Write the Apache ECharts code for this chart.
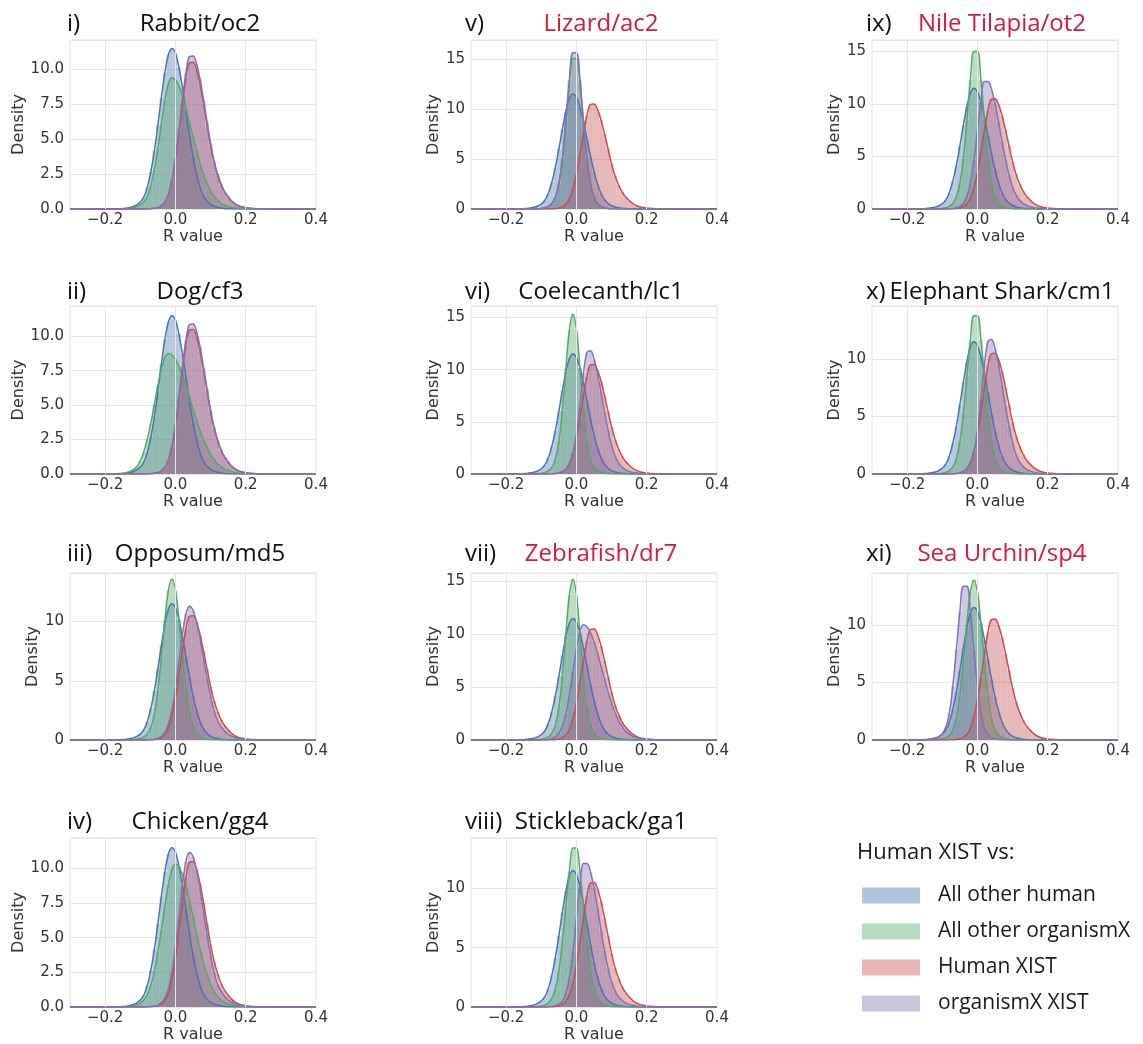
<!DOCTYPE html>
<html>
<head>
<meta charset="utf-8">
<script src="https://cdn.jsdelivr.net/npm/echarts@6/dist/echarts.min.js"></script>
<style>
html, body { margin: 0; padding: 0; background: #fff; }
#chart { width: 1143px; height: 1044px; }
</style>
</head>
<body>
<div id="chart"></div>
<script>
// R value grid (bin centres / kde points)
var rValues = [
  -0.30, -0.29, -0.28, -0.27, -0.26, -0.25, -0.24, -0.23, -0.22, -0.21,
  -0.20, -0.19, -0.18, -0.17, -0.16, -0.15, -0.14, -0.13, -0.12, -0.11,
  -0.10, -0.09, -0.08, -0.07, -0.06, -0.05, -0.04, -0.03, -0.02, -0.01,
  0.00, 0.01, 0.02, 0.03, 0.04, 0.05, 0.06, 0.07, 0.08, 0.09,
  0.10, 0.11, 0.12, 0.13, 0.14, 0.15, 0.16, 0.17, 0.18, 0.19,
  0.20, 0.21, 0.22, 0.23, 0.24, 0.25, 0.26, 0.27, 0.28, 0.29,
  0.30, 0.31, 0.32, 0.33, 0.34, 0.35, 0.36, 0.37, 0.38, 0.39,
  0.40
];

// same in every panel
var humanOther = [
  0, 0, 0, 0, 0, 0, 0, 0, 0, 0,
  0, 0, 0, 0.01, 0.02, 0.035, 0.06, 0.11, 0.18, 0.3,
  0.5, 0.85, 1.55, 2.65, 4.14, 6.0, 7.97, 9.76, 11.04, 11.5,
  11.15, 10.15, 8.7, 6.98, 5.27, 3.74, 2.49, 1.55, 0.92, 0.55,
  0.33, 0.2, 0.12, 0.07, 0.04, 0.02, 0.01, 0, 0, 0,
  0, 0, 0, 0, 0, 0, 0, 0, 0, 0,
  0, 0, 0, 0, 0, 0, 0, 0, 0, 0,
  0
];
var humanXist = [
  0, 0, 0, 0, 0, 0, 0, 0, 0, 0,
  0, 0, 0, 0, 0, 0, 0, 0, 0, 0,
  0, 0, 0.01, 0.02, 0.05, 0.1, 0.22, 0.47, 1.0, 1.97,
  3.45, 5.4, 7.5, 9.35, 10.45, 10.5, 9.95, 8.9, 7.5, 6.0,
  4.5, 3.3, 2.4, 1.7, 1.2, 0.85, 0.55, 0.35, 0.22, 0.14,
  0.09, 0.06, 0.04, 0.025, 0.015, 0.01, 0.005, 0, 0, 0,
  0, 0, 0, 0, 0, 0, 0, 0, 0, 0,
  0
];

// all other organismX, one per panel
var rabbitOther = [
  0, 0, 0, 0, 0, 0, 0, 0, 0, 0,
  0, 0, 0, 0, 0.01, 0.02, 0.035, 0.06, 0.1, 0.18,
  0.3, 0.5, 0.9, 1.65, 2.8, 4.3, 6.05, 7.75, 8.95, 9.4,
  9.25, 8.8, 8.1, 7.2, 6.2, 5.2, 4.2, 3.25, 2.45, 1.8,
  1.3, 0.9, 0.6, 0.4, 0.27, 0.18, 0.12, 0.08, 0.05, 0.03,
  0.02, 0.01, 0, 0, 0, 0, 0, 0, 0, 0,
  0, 0, 0, 0, 0, 0, 0, 0, 0, 0,
  0
];
var dogOther = [
  0, 0, 0, 0, 0, 0, 0, 0, 0, 0,
  0, 0, 0.01, 0.02, 0.035, 0.06, 0.1, 0.18, 0.31, 0.53,
  0.95, 1.6, 2.52, 3.68, 5.03, 6.4, 7.62, 8.45, 8.75, 8.64,
  8.32, 7.81, 7.16, 6.39, 5.57, 4.72, 3.91, 3.15, 2.48, 1.91,
  1.43, 1.04, 0.74, 0.52, 0.36, 0.25, 0.17, 0.11, 0.07, 0.045,
  0.03, 0.02, 0.01, 0, 0, 0, 0, 0, 0, 0,
  0, 0, 0, 0, 0, 0, 0, 0, 0, 0,
  0
];
var opposumOther = [
  0, 0, 0, 0, 0, 0, 0, 0, 0, 0,
  0, 0, 0, 0, 0, 0, 0.01, 0.02, 0.04, 0.07,
  0.13, 0.25, 0.5, 1.05, 2.14, 4.16, 6.99, 10.12, 12.63, 13.6,
  12.63, 10.2, 7.1, 4.3, 2.3, 1.15, 0.58, 0.3, 0.15, 0.08,
  0.045, 0.025, 0.012, 0, 0, 0, 0, 0, 0, 0,
  0, 0, 0, 0, 0, 0, 0, 0, 0, 0,
  0, 0, 0, 0, 0, 0, 0, 0, 0, 0,
  0
];
var chickenOther = [
  0, 0, 0, 0, 0, 0, 0, 0, 0, 0,
  0, 0, 0, 0, 0, 0.01, 0.02, 0.04, 0.08, 0.15,
  0.28, 0.5, 0.88, 1.56, 2.56, 3.92, 5.55, 7.27, 8.83, 9.91,
  10.3, 10.11, 9.57, 8.72, 7.66, 6.49, 5.29, 4.16, 3.15, 2.31,
  1.62, 1.1, 0.75, 0.5, 0.33, 0.22, 0.14, 0.09, 0.06, 0.04,
  0.025, 0.015, 0.01, 0, 0, 0, 0, 0, 0, 0,
  0, 0, 0, 0, 0, 0, 0, 0, 0, 0,
  0
];
var lizardOther = [
  0, 0, 0, 0, 0, 0, 0, 0, 0, 0,
  0, 0, 0, 0, 0, 0, 0, 0, 0.015, 0.03,
  0.06, 0.12, 0.26, 0.54, 1.16, 2.46, 4.84, 8.53, 12.44, 15.05,
  15.05, 12.44, 8.53, 4.84, 2.46, 1.16, 0.54, 0.26, 0.12, 0.06,
  0.03, 0.015, 0, 0, 0, 0, 0, 0, 0, 0,
  0, 0, 0, 0, 0, 0, 0, 0, 0, 0,
  0, 0, 0, 0, 0, 0, 0, 0, 0, 0,
  0
];
var coelecanthOther = [
  0, 0, 0, 0, 0, 0, 0, 0, 0, 0,
  0, 0, 0, 0, 0, 0, 0, 0.01, 0.02, 0.04,
  0.08, 0.15, 0.31, 0.61, 1.38, 3.06, 6.04, 10.11, 13.8, 15.3,
  13.8, 10.11, 6.04, 3.06, 1.38, 0.61, 0.31, 0.15, 0.08, 0.04,
  0.02, 0.01, 0, 0, 0, 0, 0, 0, 0, 0,
  0, 0, 0, 0, 0, 0, 0, 0, 0, 0,
  0, 0, 0, 0, 0, 0, 0, 0, 0, 0,
  0
];
var zebrafishOther = [
  0, 0, 0, 0, 0, 0, 0, 0, 0, 0,
  0, 0, 0, 0, 0, 0, 0, 0.01, 0.02, 0.04,
  0.08, 0.15, 0.3, 0.6, 1.37, 3.04, 6.0, 10.05, 13.7, 15.2,
  13.7, 10.05, 6.0, 3.04, 1.37, 0.6, 0.3, 0.15, 0.08, 0.04,
  0.02, 0.01, 0, 0, 0, 0, 0, 0, 0, 0,
  0, 0, 0, 0, 0, 0, 0, 0, 0, 0,
  0, 0, 0, 0, 0, 0, 0, 0, 0, 0,
  0
];
var sticklebackOther = [
  0, 0, 0, 0, 0, 0, 0, 0, 0, 0,
  0, 0, 0, 0, 0, 0, 0, 0.01, 0.02, 0.04,
  0.08, 0.16, 0.33, 0.7, 1.5, 3.02, 5.45, 8.5, 11.43, 13.4,
  13.4, 11.43, 8.5, 5.45, 3.02, 1.5, 0.7, 0.33, 0.16, 0.08,
  0.04, 0.02, 0.01, 0, 0, 0, 0, 0, 0, 0,
  0, 0, 0, 0, 0, 0, 0, 0, 0, 0,
  0, 0, 0, 0, 0, 0, 0, 0, 0, 0,
  0
];
var tilapiaOther = [
  0, 0, 0, 0, 0, 0, 0, 0, 0, 0,
  0, 0, 0, 0, 0, 0, 0, 0, 0, 0.03,
  0.06, 0.12, 0.26, 0.53, 1.14, 2.43, 4.77, 8.42, 12.28, 15.0,
  15.0, 12.28, 8.42, 4.77, 2.43, 1.14, 0.53, 0.26, 0.12, 0.06,
  0.03, 0, 0, 0, 0, 0, 0, 0, 0, 0,
  0, 0, 0, 0, 0, 0, 0, 0, 0, 0,
  0, 0, 0, 0, 0, 0, 0, 0, 0, 0,
  0
];
var sharkOther = [
  0, 0, 0, 0, 0, 0, 0, 0, 0, 0,
  0, 0, 0, 0, 0, 0, 0, 0, 0.015, 0.035,
  0.07, 0.14, 0.29, 0.6, 1.3, 2.75, 5.21, 8.44, 11.61, 13.75,
  13.75, 11.61, 8.44, 5.21, 2.75, 1.3, 0.6, 0.29, 0.14, 0.07,
  0.035, 0.015, 0, 0, 0, 0, 0, 0, 0, 0,
  0, 0, 0, 0, 0, 0, 0, 0, 0, 0,
  0, 0, 0, 0, 0, 0, 0, 0, 0, 0,
  0
];
var urchinOther = [
  0, 0, 0, 0, 0, 0, 0, 0, 0, 0,
  0, 0, 0, 0, 0, 0, 0, 0.01, 0.025, 0.05,
  0.1, 0.2, 0.4, 0.85, 1.88, 3.86, 6.77, 10.09, 12.83, 13.9,
  12.83, 10.09, 6.77, 3.86, 1.88, 0.85, 0.4, 0.2, 0.1, 0.05,
  0.025, 0.01, 0, 0, 0, 0, 0, 0, 0, 0,
  0, 0, 0, 0, 0, 0, 0, 0, 0, 0,
  0, 0, 0, 0, 0, 0, 0, 0, 0, 0,
  0
];

// organismX XIST, one per panel
var rabbitXist = [
  0, 0, 0, 0, 0, 0, 0, 0, 0, 0,
  0, 0, 0, 0, 0, 0, 0, 0, 0, 0,
  0, 0, 0.01, 0.02, 0.05, 0.1, 0.23, 0.49, 1.05, 2.05,
  3.6, 5.65, 7.85, 9.75, 10.9, 10.95, 10.4, 9.3, 7.8, 6.25,
  4.7, 3.45, 2.5, 1.78, 1.25, 0.89, 0.57, 0.37, 0.23, 0.15,
  0.09, 0.06, 0.04, 0.025, 0.015, 0.01, 0.005, 0, 0, 0,
  0, 0, 0, 0, 0, 0, 0, 0, 0, 0,
  0
];
var dogXist = [
  0, 0, 0, 0, 0, 0, 0, 0, 0, 0,
  0, 0, 0, 0, 0, 0, 0, 0, 0, 0,
  0, 0, 0.01, 0.02, 0.05, 0.1, 0.22, 0.48, 1.02, 2.0,
  3.55, 5.6, 7.8, 9.7, 10.85, 10.9, 10.35, 9.25, 7.75, 6.2,
  4.65, 3.4, 2.48, 1.76, 1.24, 0.88, 0.57, 0.37, 0.23, 0.15,
  0.09, 0.06, 0.04, 0.025, 0.015, 0.01, 0.005, 0, 0, 0,
  0, 0, 0, 0, 0, 0, 0, 0, 0, 0,
  0
];
var opposumXist = [
  0, 0, 0, 0, 0, 0, 0, 0, 0, 0,
  0, 0, 0, 0, 0, 0, 0, 0, 0, 0,
  0, 0, 0.015, 0.03, 0.07, 0.14, 0.3, 0.65, 1.33, 2.55,
  4.36, 6.61, 8.9, 10.64, 11.3, 10.95, 9.97, 8.53, 6.86, 5.18,
  3.67, 2.44, 1.6, 1.1, 0.75, 0.5, 0.33, 0.21, 0.13, 0.08,
  0.05, 0.03, 0.02, 0.01, 0, 0, 0, 0, 0, 0,
  0, 0, 0, 0, 0, 0, 0, 0, 0, 0,
  0
];
var chickenXist = [
  0, 0, 0, 0, 0, 0, 0, 0, 0, 0,
  0, 0, 0, 0, 0, 0, 0, 0, 0, 0,
  0, 0, 0.015, 0.03, 0.07, 0.14, 0.3, 0.64, 1.3, 2.5,
  4.3, 6.5, 8.8, 10.5, 11.15, 10.85, 9.9, 8.5, 6.85, 5.2,
  3.7, 2.48, 1.62, 1.12, 0.76, 0.5, 0.33, 0.21, 0.13, 0.08,
  0.05, 0.03, 0.02, 0.01, 0, 0, 0, 0, 0, 0,
  0, 0, 0, 0, 0, 0, 0, 0, 0, 0,
  0
];
var lizardXist = [
  0, 0, 0, 0, 0, 0, 0, 0, 0, 0,
  0, 0, 0, 0, 0, 0, 0, 0, 0.015, 0.03,
  0.06, 0.13, 0.27, 0.56, 1.2, 2.56, 5.02, 8.86, 12.93, 15.63,
  15.63, 12.93, 8.86, 5.02, 2.56, 1.2, 0.56, 0.27, 0.13, 0.06,
  0.03, 0.015, 0, 0, 0, 0, 0, 0, 0, 0,
  0, 0, 0, 0, 0, 0, 0, 0, 0, 0,
  0, 0, 0, 0, 0, 0, 0, 0, 0, 0,
  0
];
var coelecanthXist = [
  0, 0, 0, 0, 0, 0, 0, 0, 0, 0,
  0, 0, 0, 0, 0, 0, 0, 0, 0, 0,
  0, 0, 0, 0.02, 0.05, 0.1, 0.2, 0.42, 0.89, 1.9,
  3.74, 6.59, 9.62, 11.63, 11.8, 11.0, 9.59, 7.78, 5.9, 4.18,
  2.76, 1.7, 1.05, 0.65, 0.4, 0.25, 0.15, 0.09, 0.05, 0.03,
  0.015, 0, 0, 0, 0, 0, 0, 0, 0, 0,
  0, 0, 0, 0, 0, 0, 0, 0, 0, 0,
  0
];
var zebrafishXist = [
  0, 0, 0, 0, 0, 0, 0, 0, 0, 0,
  0, 0, 0, 0, 0, 0, 0, 0, 0, 0,
  0.015, 0.03, 0.07, 0.15, 0.3, 0.65, 1.28, 2.46, 4.21, 6.38,
  8.59, 10.27, 10.9, 10.71, 10.15, 9.29, 8.2, 6.99, 5.74, 4.55,
  3.49, 2.57, 1.84, 1.27, 0.84, 0.55, 0.36, 0.23, 0.15, 0.1,
  0.06, 0.04, 0.025, 0.015, 0.01, 0, 0, 0, 0, 0,
  0, 0, 0, 0, 0, 0, 0, 0, 0, 0,
  0
];
var sticklebackXist = [
  0, 0, 0, 0, 0, 0, 0, 0, 0, 0,
  0, 0, 0, 0, 0, 0, 0, 0, 0, 0,
  0, 0.015, 0.03, 0.06, 0.12, 0.24, 0.5, 1.15, 2.42, 4.58,
  7.41, 10.19, 12.1, 12.1, 11.37, 10.04, 8.32, 6.48, 4.75, 3.26,
  2.1, 1.35, 0.85, 0.55, 0.35, 0.22, 0.14, 0.09, 0.055, 0.035,
  0.02, 0.01, 0, 0, 0, 0, 0, 0, 0, 0,
  0, 0, 0, 0, 0, 0, 0, 0, 0, 0,
  0
];
var tilapiaXist = [
  0, 0, 0, 0, 0, 0, 0, 0, 0, 0,
  0, 0, 0, 0, 0, 0, 0, 0, 0, 0,
  0, 0.015, 0.03, 0.06, 0.12, 0.25, 0.52, 1.18, 2.45, 4.62,
  7.45, 10.25, 12.15, 12.15, 11.4, 10.05, 8.3, 6.45, 4.7, 3.22,
  2.08, 1.33, 0.84, 0.54, 0.34, 0.21, 0.13, 0.085, 0.05, 0.03,
  0.02, 0.01, 0, 0, 0, 0, 0, 0, 0, 0,
  0, 0, 0, 0, 0, 0, 0, 0, 0, 0,
  0
];
var sharkXist = [
  0, 0, 0, 0, 0, 0, 0, 0, 0, 0,
  0, 0, 0, 0, 0, 0, 0, 0, 0, 0,
  0, 0, 0, 0.02, 0.05, 0.1, 0.2, 0.42, 0.88, 1.88,
  3.7, 6.52, 9.52, 11.5, 11.68, 10.9, 9.5, 7.7, 5.84, 4.14,
  2.73, 1.68, 1.04, 0.64, 0.4, 0.25, 0.15, 0.09, 0.05, 0.03,
  0.015, 0, 0, 0, 0, 0, 0, 0, 0, 0,
  0, 0, 0, 0, 0, 0, 0, 0, 0, 0,
  0
];
var urchinXist = [
  0, 0, 0, 0, 0, 0, 0, 0, 0, 0,
  0, 0, 0, 0, 0, 0.017, 0.035, 0.07, 0.14, 0.28,
  0.55, 1.1, 2.32, 4.66, 7.84, 11.1, 13.35, 13.35, 11.1, 7.84,
  4.66, 2.32, 0.97, 0.45, 0.2, 0.09, 0.04, 0.02, 0.01, 0,
  0, 0, 0, 0, 0, 0, 0, 0, 0, 0,
  0, 0, 0, 0, 0, 0, 0, 0, 0, 0,
  0, 0, 0, 0, 0, 0, 0, 0, 0, 0,
  0
];

var panelNumerals = ['i)', 'ii)', 'iii)', 'iv)', 'v)', 'vi)', 'vii)', 'viii)', 'ix)', 'x)', 'xi)'];
var speciesTitles = ['Rabbit/oc2', 'Dog/cf3', 'Opposum/md5', 'Chicken/gg4', 'Lizard/ac2', 'Coelecanth/lc1',
  'Zebrafish/dr7', 'Stickleback/ga1', 'Nile Tilapia/ot2', 'Elephant Shark/cm1', 'Sea Urchin/sp4'];
var redTitles = ['Lizard/ac2', 'Zebrafish/dr7', 'Nile Tilapia/ot2', 'Sea Urchin/sp4'];
var otherOrganismX = [rabbitOther, dogOther, opposumOther, chickenOther, lizardOther, coelecanthOther,
  zebrafishOther, sticklebackOther, tilapiaOther, sharkOther, urchinOther];
var organismXXist = [rabbitXist, dogXist, opposumXist, chickenXist, lizardXist, coelecanthXist,
  zebrafishXist, sticklebackXist, tilapiaXist, sharkXist, urchinXist];
var densityMax = [12.1, 12.2, 14.1, 12.2, 16.9, 16.1, 15.8, 14.25, 16.1, 14.6, 14.5];
var seriesNames = ['All other human', 'All other organismX', 'Human XIST', 'organismX XIST'];

var colors = ['#4c72b0', '#55a868', '#c44e52', '#8172b2'];
function fade(hex, a) {
  var n = parseInt(hex.slice(1), 16);
  return 'rgba(' + (n >> 16) + ',' + ((n >> 8) & 255) + ',' + (n & 255) + ',' + a + ')';
}

// panel layout (3 columns x 4 rows, column-major)
var colLeft = [70, 471, 872];
var colWidth = 246;
var rowTop = [40, 306, 573, 838];
var rowHeight = [169, 168, 167, 169];
var titleY = [24, 292, 554, 822];
var numeralX = [67, 465, 866];

var binWidth = rValues[1] - rValues[0];
var tickFont = { fontFamily: 'DejaVu Sans', fontSize: 15, color: '#333' };
var nameFont = { fontFamily: 'DejaVu Sans', fontSize: 16, color: '#333' };

function fmtR(v) {
  var k = Math.round(v * 10);
  if (k % 2 !== 0) return '';
  return (k < 0 ? '\u2212' : '') + Math.abs(k / 10).toFixed(1);
}

function histItem(fill) {
  return function (params, api) {
    var r = api.value(0), d = api.value(1);
    var p0 = api.coord([r - binWidth / 2, d]);
    var p1 = api.coord([r + binWidth / 2, 0]);
    return {
      type: 'rect',
      shape: { x: p0[0], y: p0[1], width: p1[0] - p0[0], height: p1[1] - p0[1] },
      style: { fill: fill }
    };
  };
}

var grids = [], xAxes = [], yAxes = [], series = [], graphics = [];

speciesTitles.forEach(function (title, k) {
  var col = Math.floor(k / 4), row = k % 4;
  var step = densityMax[k] < 13 ? 2.5 : 5;

  grids.push({
    left: colLeft[col], top: rowTop[row], width: colWidth, height: rowHeight[row],
    show: true, borderColor: '#e3e3e3', borderWidth: 1
  });
  xAxes.push({
    gridIndex: k, type: 'value', min: -0.3, max: 0.4, interval: 0.1,
    name: 'R value', nameLocation: 'middle', nameGap: 20, nameTextStyle: nameFont,
    axisLine: { show: false }, axisTick: { show: false }, splitLine: { show: false },
    axisLabel: Object.assign({ formatter: fmtR, margin: 4, showMinLabel: false }, tickFont)
  });
  yAxes.push({
    gridIndex: k, type: 'value', min: 0, max: densityMax[k], interval: step,
    name: 'Density', nameLocation: 'middle', nameGap: step === 2.5 ? 36 : 23, nameTextStyle: nameFont,
    axisLine: { show: false }, axisTick: { show: false },
    splitLine: { lineStyle: { color: '#e6e6e6', width: 1 } },
    axisLabel: Object.assign({
      margin: 6, showMaxLabel: false,
      formatter: function (v) { return step === 2.5 ? v.toFixed(1) : String(v); }
    }, tickFont)
  });

  // vertical grid lines at the labelled R values
  series.push({
    type: 'line', xAxisIndex: k, yAxisIndex: k, data: [], silent: true, z: 1,
    markLine: {
      silent: true, symbol: 'none', label: { show: false }, animation: false,
      lineStyle: { color: '#e6e6e6', width: 1, type: 'solid' },
      data: [{ xAxis: -0.2 }, { xAxis: 0 }, { xAxis: 0.2 }]
    }
  });

  var sets = [humanOther, otherOrganismX[k], humanXist, organismXXist[k]];
  sets.forEach(function (vals, j) {
    var pts = rValues.map(function (r, i) { return [r, vals[i]]; });
    series.push({
      type: 'custom', name: seriesNames[j], xAxisIndex: k, yAxisIndex: k, silent: true, z: 2,
      itemStyle: { color: fade(colors[j], 0.4) },
      renderItem: histItem(fade(colors[j], 0.4)), data: pts
    });
    series.push({
      type: 'line', name: seriesNames[j], xAxisIndex: k, yAxisIndex: k, silent: true, z: 2,
      data: pts, showSymbol: false, smooth: 0.4,
      itemStyle: { color: colors[j] },
      lineStyle: { color: colors[j], width: 1.5 }
    });
  });

  graphics.push({
    type: 'text', x: numeralX[col], y: titleY[row],
    style: { text: panelNumerals[k], font: '24px "Open Sans"', fill: '#111', align: 'left', verticalAlign: 'middle' }
  });
  graphics.push({
    type: 'text', x: colLeft[col] + 130, y: titleY[row],
    style: {
      text: title, font: '24px "Open Sans"', align: 'center', verticalAlign: 'middle',
      fill: redTitles.indexOf(title) >= 0 ? '#d8193b' : '#111'
    }
  });
});

graphics.push({
  type: 'text', x: 857, y: 853,
  style: { text: 'Human XIST vs:', font: '22px "Open Sans"', fill: '#1a1a1a', align: 'left', verticalAlign: 'middle' }
});

var chart = echarts.init(document.getElementById('chart'));
chart.setOption({
  animation: false,
  backgroundColor: '#fff',
  grid: grids,
  xAxis: xAxes,
  yAxis: yAxes,
  legend: {
    left: 857, top: 880, orient: 'vertical', icon: 'rect',
    itemWidth: 58, itemHeight: 16, itemGap: 15, selectedMode: false,
    textStyle: { fontFamily: 'Open Sans', fontSize: 21, color: '#1a1a1a', lineHeight: 21, padding: [0, 0, 0, 13] },
    data: seriesNames.map(function (n, j) {
      return { name: n, itemStyle: { color: fade(colors[j], 0.42) } };
    })
  },
  graphic: graphics,
  series: series
});
</script>
</body>
</html>
